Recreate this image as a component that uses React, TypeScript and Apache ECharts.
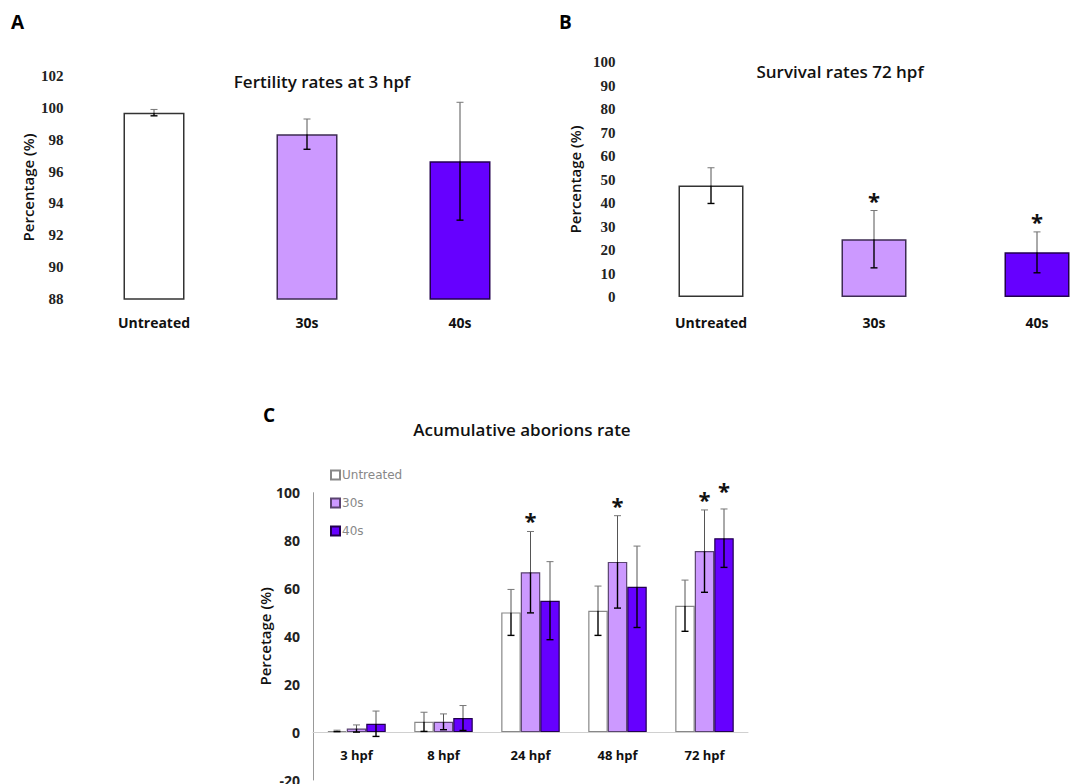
import React, { useEffect, useRef } from "react";
import * as echarts from "echarts";

// ---------- Data ----------
const groupCats = ["Untreated", "30s", "40s"];

// Panel A: Fertility rates at 3 hpf
const fertilityValues = [99.7, 98.35, 96.65];
const fertilityErrors = [0.2, 0.95, 3.7];
const fertilityTicks = { min: 88, max: 102, interval: 2 };

// Panel B: Survival rates 72 hpf
const survivalValues = [47.4, 24.6, 19.0];
const survivalErrors = [7.6, 12.2, 8.7];
const survivalSignificant = [false, true, true];
const survivalTicks = { min: 0, max: 100, interval: 10 };

// Panel C: Acumulative aborions rate
const abortionCats = ["3 hpf", "8 hpf", "24 hpf", "48 hpf", "72 hpf"];
const abortionUntreated = [0.5, 4.3, 50.0, 50.7, 52.8];
const abortionUntreatedErr = [0.3, 4.0, 9.6, 10.3, 10.7];
const abortionUntreatedSig = [false, false, false, false, false];
const abortion30s = [1.5, 4.3, 66.8, 71.1, 75.6];
const abortion30sErr = [1.5, 3.3, 17.0, 19.3, 17.2];
const abortion30sSig = [false, false, true, true, true];
const abortion40s = [3.5, 5.9, 54.9, 60.7, 81.0];
const abortion40sErr = [5.3, 5.2, 16.3, 17.0, 12.2];
const abortion40sSig = [false, false, false, false, true];
const abortionTicks = { min: -20, max: 100, interval: 20 };

// ---------- Styles ----------
const FILL = ["#ffffff", "#cc99ff", "#6600ff"];
const BORDER = ["#333333", "#3d2b52", "#22004f"];
const SANS = "'Open Sans', 'DejaVu Sans', sans-serif";
const SERIF = "'Liberation Serif', 'DejaVu Serif', serif";

function errData(vals: number[], errs: number[], sig?: boolean[]) {
  return vals.map((v, i) => [i, v, errs[i], sig && sig[i] ? 1 : 0]);
}

function errRender(offsetPx: number, starGap: number) {
  return (params: any, api: any) => {
    const xi = api.value(0);
    const v = api.value(1);
    const e = api.value(2);
    const s = api.value(3);
    const mid = api.coord([xi, v]);
    const top = api.coord([xi, v + e]);
    const bot = api.coord([xi, v - e]);
    const x = mid[0] + offsetPx;
    const cap = 3.5;
    const children: any[] = [
      { type: "line", shape: { x1: x, y1: top[1], x2: x, y2: mid[1] }, style: { stroke: "#555", lineWidth: 1 } },
      { type: "line", shape: { x1: x, y1: mid[1], x2: x, y2: bot[1] }, style: { stroke: "#000", lineWidth: 1.4 } },
      { type: "line", shape: { x1: x - cap, y1: top[1], x2: x + cap, y2: top[1] }, style: { stroke: "#777", lineWidth: 1 } },
      { type: "line", shape: { x1: x - cap, y1: bot[1], x2: x + cap, y2: bot[1] }, style: { stroke: "#000", lineWidth: 1.4 } },
    ];
    if (s) {
      children.push({
        type: "text",
        style: {
          text: "*",
          x: x,
          y: top[1] - starGap,
          textAlign: "center",
          textVerticalAlign: "top",
          font: `bold 22px ${SANS}`,
          fill: "#111",
        },
      });
    }
    return { type: "group", children };
  };
}

export default function App() {
  const ref = useRef<HTMLDivElement>(null);

  useEffect(() => {
    if (!ref.current) return;
    const chart = echarts.init(ref.current, undefined, { renderer: "svg" });

    const tickLabelSerif = { fontFamily: SERIF, fontWeight: "bold" as const, fontSize: 15, color: "#222" };
    const catLabel = { fontFamily: SANS, fontWeight: "bold" as const, fontSize: 14, color: "#111" };
    const yName = { fontFamily: SANS, fontWeight: 600 as any, fontSize: 15, color: "#111" };

    const option: any = {
      animation: false,
      backgroundColor: "#ffffff",
      grid: [
        { left: 77.5, right: 583.5, top: 76, bottom: 485, outerBoundsMode: "none", containLabel: false },
        { left: 629.5, right: 1.5, top: 62, bottom: 487, outerBoundsMode: "none", containLabel: false },
        { left: 313, right: 372, top: 492.7, bottom: 4, outerBoundsMode: "none", containLabel: false },
      ],
      xAxis: [
        {
          gridIndex: 0,
          type: "category",
          data: groupCats,
          axisLine: { show: false },
          axisTick: { show: false },
          axisLabel: { ...catLabel, margin: 16 },
        },
        {
          gridIndex: 1,
          type: "category",
          data: groupCats,
          axisLine: { show: false },
          axisTick: { show: false },
          axisLabel: { ...catLabel, margin: 18 },
        },
        {
          gridIndex: 2,
          type: "category",
          data: abortionCats,
          axisLine: { show: true, onZero: true, lineStyle: { color: "#d0d0d0", width: 1 } },
          axisTick: { show: false },
          axisLabel: { ...catLabel, fontSize: 13, margin: -32 },
        },
      ],
      yAxis: [
        {
          gridIndex: 0,
          type: "value",
          min: fertilityTicks.min,
          max: fertilityTicks.max,
          interval: fertilityTicks.interval,
          axisLine: { show: false },
          axisTick: { show: false },
          splitLine: { show: false },
          axisLabel: { ...tickLabelSerif, margin: 14 },
          name: "Percentage (%)",
          nameLocation: "middle",
          nameGap: 42,
          nameTextStyle: yName,
        },
        {
          gridIndex: 1,
          type: "value",
          min: survivalTicks.min,
          max: survivalTicks.max,
          interval: survivalTicks.interval,
          axisLine: { show: false },
          axisTick: { show: false },
          splitLine: { show: false },
          axisLabel: { ...tickLabelSerif, margin: 14 },
          name: "Percentage (%)",
          nameLocation: "middle",
          nameGap: 47,
          nameTextStyle: yName,
        },
        {
          gridIndex: 2,
          type: "value",
          min: abortionTicks.min,
          max: abortionTicks.max,
          interval: abortionTicks.interval,
          axisLine: { show: true, lineStyle: { color: "#999", width: 1 } },
          axisTick: { show: false },
          splitLine: { show: false },
          axisLabel: { fontFamily: SANS, fontWeight: "bold", fontSize: 14, color: "#222", margin: 13 },
          name: "Percetage (%)",
          nameLocation: "middle",
          nameGap: 40,
          nameTextStyle: yName,
        },
      ],
      legend: {
        data: ["Untreated", "30s", "40s"],
        orient: "vertical",
        left: 325,
        top: 464,
        itemWidth: 9,
        itemHeight: 9,
        itemGap: 16,
        icon: "rect",
        textStyle: { color: "#888", fontSize: 12, fontFamily: "'DejaVu Sans', sans-serif", padding: [0, 0, 0, -3] },
      },
      series: [
        // Panel A
        {
          type: "bar",
          name: "fertility",
          xAxisIndex: 0,
          yAxisIndex: 0,
          barWidth: 61,
          data: fertilityValues.map((v, i) => ({
            value: v,
            itemStyle: { color: FILL[i], borderColor: BORDER[i], borderWidth: 1.5 },
          })),
        },
        {
          type: "custom",
          name: "fertilityErr",
          xAxisIndex: 0,
          yAxisIndex: 0,
          renderItem: errRender(0, 20),
          data: errData(fertilityValues, fertilityErrors),
          z: 5,
        },
        // Panel B
        {
          type: "bar",
          name: "survival",
          xAxisIndex: 1,
          yAxisIndex: 1,
          barWidth: 65,
          data: survivalValues.map((v, i) => ({
            value: v,
            itemStyle: { color: FILL[i], borderColor: BORDER[i], borderWidth: 1.5 },
          })),
        },
        {
          type: "custom",
          name: "survivalErr",
          xAxisIndex: 1,
          yAxisIndex: 1,
          renderItem: errRender(0, 22),
          data: errData(survivalValues, survivalErrors, survivalSignificant),
          z: 5,
        },
        // Panel C
        {
          type: "bar",
          name: "Untreated",
          xAxisIndex: 2,
          yAxisIndex: 2,
          barWidth: 19.5,
          barGap: "0%",
          itemStyle: { color: FILL[0], borderColor: "#888", borderWidth: 1.2 },
          data: abortionUntreated,
        },
        {
          type: "bar",
          name: "30s",
          xAxisIndex: 2,
          yAxisIndex: 2,
          barWidth: 19.5,
          barGap: "0%",
          itemStyle: { color: FILL[1], borderColor: "#5a4470", borderWidth: 1.2 },
          data: abortion30s,
        },
        {
          type: "bar",
          name: "40s",
          xAxisIndex: 2,
          yAxisIndex: 2,
          barWidth: 19.5,
          barGap: "0%",
          itemStyle: { color: FILL[2], borderColor: BORDER[2], borderWidth: 1.2 },
          data: abortion40s,
        },
        {
          type: "custom",
          name: "untreatedErr",
          xAxisIndex: 2,
          yAxisIndex: 2,
          renderItem: errRender(-19.5, 22),
          data: errData(abortionUntreated, abortionUntreatedErr, abortionUntreatedSig),
          z: 5,
        },
        {
          type: "custom",
          name: "30sErr",
          xAxisIndex: 2,
          yAxisIndex: 2,
          renderItem: errRender(0, 22),
          data: errData(abortion30s, abortion30sErr, abortion30sSig),
          z: 5,
        },
        {
          type: "custom",
          name: "40sErr",
          xAxisIndex: 2,
          yAxisIndex: 2,
          renderItem: errRender(19.5, 30),
          data: errData(abortion40s, abortion40sErr, abortion40sSig),
          z: 5,
        },
      ],
      graphic: [
        { type: "text", left: 11, top: 12, style: { text: "A", font: `bold 19px ${SANS}`, fill: "#000" } },
        { type: "text", left: 559, top: 12, style: { text: "B", font: `bold 19px ${SANS}`, fill: "#000" } },
        { type: "text", left: 263, top: 405, style: { text: "C", font: `bold 19px ${SANS}`, fill: "#000" } },
        {
          type: "text",
          x: 322,
          y: 81,
          style: { text: "Fertility rates at 3 hpf", font: `600 17px ${SANS}`, fill: "#111", textAlign: "center", textVerticalAlign: "middle" },
        },
        {
          type: "text",
          x: 840,
          y: 71,
          style: { text: "Survival rates 72 hpf", font: `600 17px ${SANS}`, fill: "#111", textAlign: "center", textVerticalAlign: "middle" },
        },
        {
          type: "text",
          x: 522,
          y: 429,
          style: { text: "Acumulative aborions rate", font: `600 17px ${SANS}`, fill: "#111", textAlign: "center", textVerticalAlign: "middle" },
        },
      ],
    };

    chart.setOption(option);
    return () => chart.dispose();
  }, []);

  return (
    <div style={{ position: "fixed", left: 0, top: 0, width: 1075, height: 784, overflow: "hidden", background: "#fff" }}>
      <div ref={ref} style={{ width: 1120, height: 784 }} />
    </div>
  );
}
